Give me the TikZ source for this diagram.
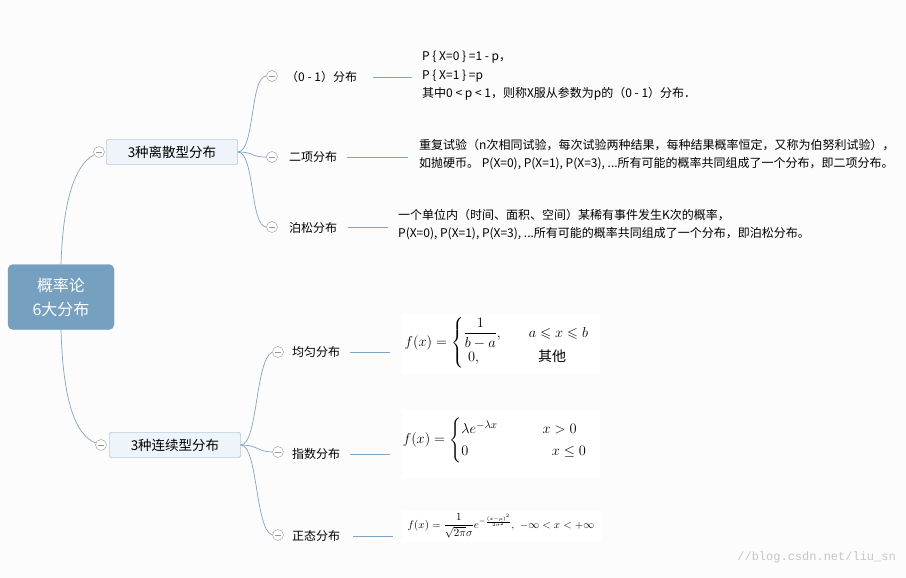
\documentclass[tikz,border=0pt]{standalone}
\usepackage{amsmath,amssymb}
\usepackage{fontspec}
\newfontfamily\cjk{Noto Sans CJK SC}
\setmonofont{Liberation Mono}
\definecolor{branch}{RGB}{128,165,195}
\definecolor{rootfill}{RGB}{118,160,192}
\definecolor{midfill}{RGB}{238,244,249}
\begin{document}
\begin{tikzpicture}[x=1pt,y=-1pt,
    rootbox/.style={draw=rootfill,fill=rootfill,rounded corners=5pt,text=white,
      minimum width=106pt,minimum height=65pt,align=center,font=\cjk\fontsize{16}{24}\selectfont},
    midbox/.style={draw=branch,fill=midfill,rounded corners=2pt,minimum width=131pt,
      minimum height=25pt,font=\cjk\fontsize{13.5}{15}\selectfont},
    toggle/.style={circle,draw=gray!80,fill=white,inner sep=0pt,minimum size=11pt,
      path picture={\draw[gray!80] ([xshift=-3pt]path picture bounding box.center) -- ([xshift=3pt]path picture bounding box.center);}},
    leaf/.style={anchor=west,inner sep=0pt,font=\cjk\fontsize{12}{14}\selectfont},
    note/.style={anchor=north west,inner sep=0pt,align=left,font=\cjk\fontsize{12}{18.5}\selectfont},
    link/.style={draw=branch,line width=0.7pt}]
  \fill[black!1] (0,0) rectangle (906,578);
  \node[rootbox] (root) at (61,297) {概率论\\6大分布};
  \node[midbox] (disc) at (172,152) {3种离散型分布};
  \node[midbox] (cont) at (175,445) {3种连续型分布};
  \node[toggle] (tdisc) at (99,152) {};
  \node[toggle] (tcont) at (101,445) {};
  \coordinate (v0) at (250,0);
  \draw[link] (root.north) .. controls (63,200) and (75,165) .. (tdisc);
  \draw[link] (root.south) .. controls (63,400) and (75,435) .. (tcont);
  % discrete
  \node[toggle] (t01) at (272,76) {};
  \node[toggle] (tbin) at (272,157) {};
  \node[toggle] (tpoi) at (272,227) {};
  \node[leaf] (l01) at (286,77) {（0 - 1）分布};
  \node[leaf] (lbin) at (289,157) {二项分布};
  \node[leaf] (lpoi) at (289,228) {泊松分布};
  \foreach \t in {t01,tbin,tpoi}
    \draw[link] (disc.east) .. controls (255,152) and (v0 |- \t) .. (\t.west);
  \draw[link] (373,77) -- (412,77);
  \draw[link] (347,157) -- (408,157);
  \draw[link] (348,227) -- (388,227);
  \node[note] (n01) at (422,51) {P \{ X=0 \} =1 - p，\\P \{ X=1 \} =p\\其中0 < p < 1，则称X服从参数为p的（0 - 1）分布．};
  \node[note] (nbin) at (419,139) {重复试验（n次相同试验，每次试验两种结果，每种结果概率恒定，又称为伯努利试验），\\如抛硬币。 P(X=0), P(X=1), P(X=3), ...所有可能的概率共同组成了一个分布，即二项分布。};
  \node[note] (npoi) at (398,209) {一个单位内（时间、面积、空间）某稀有事件发生K次的概率，\\P(X=0), P(X=1), P(X=3), ...所有可能的概率共同组成了一个分布，即泊松分布。};
  % continuous
  \node[toggle] (tuni) at (278,352) {};
  \node[toggle] (texp) at (278,452) {};
  \node[toggle] (tnor) at (278,535) {};
  \node[leaf] (luni) at (292,352) {均匀分布};
  \node[leaf] (lexp) at (292,454) {指数分布};
  \node[leaf] (lnor) at (292,536) {正态分布};
  \draw[link] (cont.east) .. controls (258,445) and (255,360) .. (tuni.west);
  \draw[link] (cont.east) .. controls (258,445) and (258,452) .. (texp.west);
  \draw[link] (cont.east) .. controls (258,445) and (255,530) .. (tnor.west);
  \draw[link] (350,352) -- (390,352);
  \draw[link] (350,454) -- (390,454);
  \draw[link] (353,536) -- (393,536);
  \fill[white] (402,313) rectangle (600,375);
  \node[anchor=center,inner sep=0pt] (funi) at (497,343) {\fontsize{14}{16}\selectfont
    $f(x)=\begin{cases}\dfrac{1}{b-a}, & \quad a\leqslant x\leqslant b\\[3pt] \ 0, & \quad\ \ \text{\cjk 其他}\end{cases}$};
  \fill[white] (402,410) rectangle (600,478);
  \node[anchor=center,inner sep=0pt] (fexp) at (495,440) {\fontsize{15}{18}\selectfont
    $f(x)=\begin{cases}\lambda e^{-\lambda x} & \qquad x>0\\ 0 & \qquad\ \ x\le 0\end{cases}$};
  \fill[white] (402,511) rectangle (602,542);
  \node[anchor=center,inner sep=0pt] (fnor) at (501,526) {\fontsize{10.8}{12}\selectfont
    $f(x)=\dfrac{1}{\sqrt{2\pi}\sigma}e^{-\frac{(x-\mu)^2}{2\sigma^2}},\ -\infty<x<+\infty$};
  \node[anchor=east,inner sep=0pt,text=gray!45,font=\ttfamily\fontsize{12}{14}\selectfont] (mark) at (896,557) {//blog.csdn.net/liu\_sn};
\end{tikzpicture}
\end{document}
